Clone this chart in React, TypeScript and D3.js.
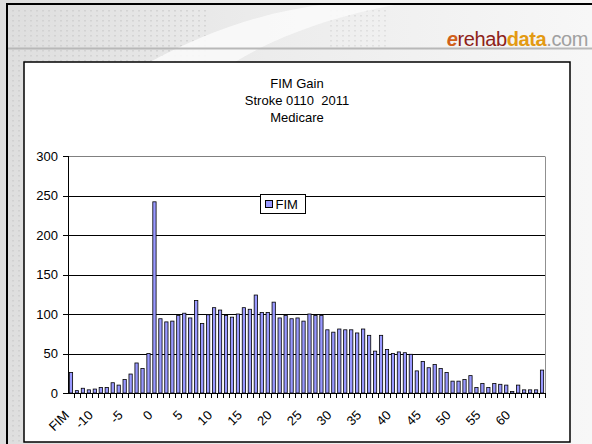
import React, { useEffect, useRef } from 'react';
import * as d3 from 'd3';

// FIM gain categories (first one is the "FIM" header bucket)
const categories: string[] = [
  'FIM', '-13', '-12', '-11', '-10', '-9', '-8', '-7', '-6', '-5', '-4', '-3', '-2', '-1',
  '0', '1', '2', '3', '4', '5', '6', '7', '8', '9', '10', '11', '12', '13', '14', '15',
  '16', '17', '18', '19', '20', '21', '22', '23', '24', '25', '26', '27', '28', '29', '30',
  '31', '32', '33', '34', '35', '36', '37', '38', '39', '40', '41', '42', '43', '44', '45',
  '46', '47', '48', '49', '50', '51', '52', '53', '54', '55', '56', '57', '58', '59', '60',
  '61', '62', '63', '64', '65',
];

const fimValues: number[] = [
  26, 3, 6, 4, 5, 7, 7, 13, 10, 17, 24, 38, 31, 50,
  242, 94, 90, 91, 98, 101, 95, 117, 88, 99, 108, 105, 98, 96, 100, 108,
  106, 124, 102, 102, 115, 95, 98, 94, 95, 91, 100, 98, 98, 80, 77,
  81, 80, 80, 76, 81, 73, 53, 73, 55, 50, 52, 51, 49, 28, 40,
  32, 36, 31, 26, 15, 15, 17, 22, 7, 12, 7, 12, 11, 10, 2,
  10, 4, 4, 4, 29,
];

const xTickLabels: string[] = ['FIM', '-10', '-5', '0', '5', '10', '15', '20', '25', '30', '35', '40', '45', '50', '55', '60'];
const yTicks: number[] = [0, 50, 100, 150, 200, 250, 300];
const titleLines: string[] = ['FIM Gain', 'Stroke 0110  2011', 'Medicare'];
const seriesName = 'FIM';

const W = 592;
const H = 444;
const plot = { left: 68, right: 545, top: 156, bottom: 393 };
const font = '"Liberation Sans", Arial, sans-serif';
const barFill = '#9999FF';

const App: React.FC = () => {
  const svgRef = useRef<SVGSVGElement>(null);

  useEffect(() => {
    if (!svgRef.current) return;
    const svg = d3.select(svgRef.current);
    svg.selectAll('*').remove();

    const x = d3.scaleBand<string>().domain(categories).range([plot.left, plot.right]).padding(0);
    const y = d3.scaleLinear().domain([0, 300]).range([plot.bottom, plot.top]);

    // slide background
    const defs = svg.append('defs');
    const bg = defs.append('linearGradient').attr('id', 'bg').attr('x1', '0%').attr('x2', '100%');
    bg.append('stop').attr('offset', '0%').attr('stop-color', '#dedede');
    bg.append('stop').attr('offset', '45%').attr('stop-color', '#ececec');
    bg.append('stop').attr('offset', '100%').attr('stop-color', '#f7f7f7');
    const dots = defs.append('pattern').attr('id', 'dots').attr('width', 6).attr('height', 5)
      .attr('patternUnits', 'userSpaceOnUse');
    dots.append('rect').attr('width', 2).attr('height', 1.5).attr('fill', '#c8c8c8');

    svg.append('rect').attr('width', W).attr('height', H).attr('fill', 'url(#bg)');
    svg.append('rect').attr('x', 8).attr('y', 8).attr('width', 200).attr('height', H).attr('fill', 'url(#dots)').attr('opacity', 0.6);
    svg.append('rect').attr('x', 330).attr('y', 8).attr('width', 60).attr('height', 40).attr('fill', 'url(#dots)').attr('opacity', 0.4);
    svg.append('path')
      .attr('d', 'M 150 62 C 210 30, 270 10, 330 4 L 400 4 C 330 16, 270 40, 235 62 Z')
      .attr('fill', '#fafafa').attr('opacity', 0.9);
    svg.append('line').attr('x1', 8).attr('x2', W).attr('y1', 48.5).attr('y2', 48.5)
      .attr('stroke', '#b8b8b8').attr('stroke-width', 2);
    svg.append('rect').attr('x', 7).attr('y', 4).attr('width', W + 10).attr('height', H + 10)
      .attr('fill', 'none').attr('stroke', '#000').attr('stroke-width', 2);

    // logo
    const logo = svg.append('text').attr('x', 588).attr('y', 46).attr('text-anchor', 'end')
      .attr('font-family', font).attr('font-size', 20).attr('letter-spacing', -0.4);
    logo.append('tspan').text('e').attr('fill', '#d0601a').attr('font-style', 'italic').attr('font-weight', 'bold');
    logo.append('tspan').text('rehab').attr('fill', '#8e2218');
    logo.append('tspan').text('data').attr('fill', '#e39a12').attr('font-weight', 'bold');
    logo.append('tspan').text('.com').attr('fill', '#a0a0a0');

    // chart box
    svg.append('rect').attr('x', 24).attr('y', 62).attr('width', 546).attr('height', 380)
      .attr('fill', '#fff').attr('stroke', '#000').attr('stroke-width', 1.5);

    // title
    svg.append('g').selectAll('text').data(titleLines).join('text')
      .attr('x', 297).attr('y', (d, i) => 88 + i * 17)
      .attr('text-anchor', 'middle').attr('font-family', font).attr('font-size', 13)
      .style('white-space', 'pre')
      .attr('fill', '#000').text(d => d);

    // gridlines
    svg.append('g').selectAll('line').data(yTicks.filter(t => t > 0)).join('line')
      .attr('x1', plot.left - 5).attr('x2', plot.right)
      .attr('y1', d => Math.round(y(d)) + 0.5).attr('y2', d => Math.round(y(d)) + 0.5)
      .attr('stroke', d => (d === 300 ? '#808080' : '#000')).attr('stroke-width', 1);
    svg.append('line').attr('x1', plot.right + 0.5).attr('x2', plot.right + 0.5)
      .attr('y1', Math.round(y(300)) + 0.5).attr('y2', plot.bottom).attr('stroke', '#909090');

    // bars
    const bw = x.bandwidth() * 0.55;
    svg.append('g').selectAll('rect').data(fimValues).join('rect')
      .attr('x', (d, i) => (x(categories[i]) || 0) + (x.bandwidth() - bw) / 2)
      .attr('y', d => y(d))
      .attr('width', bw)
      .attr('height', d => y(0) - y(d))
      .attr('fill', barFill).attr('stroke', '#000').attr('stroke-width', 0.8);

    // axes lines
    svg.append('line').attr('x1', plot.left + 0.5).attr('x2', plot.left + 0.5)
      .attr('y1', plot.top).attr('y2', plot.bottom + 0.5).attr('stroke', '#000');
    svg.append('line').attr('x1', plot.left - 5).attr('x2', plot.right + 1)
      .attr('y1', plot.bottom + 0.5).attr('y2', plot.bottom + 0.5).attr('stroke', '#000');

    // y ticks & labels
    const ya = svg.append('g');
    ya.selectAll('line').data(yTicks).join('line')
      .attr('x1', plot.left - 5).attr('x2', plot.left)
      .attr('y1', d => Math.round(y(d)) + 0.5).attr('y2', d => Math.round(y(d)) + 0.5)
      .attr('stroke', '#000');
    ya.selectAll('text').data(yTicks).join('text')
      .attr('x', plot.left - 10).attr('y', d => y(d)).attr('dy', '0.36em')
      .attr('text-anchor', 'end').attr('font-family', font).attr('font-size', 13)
      .text(d => String(d));

    // x ticks between categories
    const xa = svg.append('g');
    xa.selectAll('line').data(categories).join('line')
      .attr('x1', d => Math.round((x(d) || 0) + x.bandwidth()) + 0.5)
      .attr('x2', d => Math.round((x(d) || 0) + x.bandwidth()) + 0.5)
      .attr('y1', plot.bottom).attr('y2', plot.bottom + 5)
      .attr('stroke', '#000');

    xa.selectAll('text').data(xTickLabels).join('text')
      .attr('transform', d => `translate(${(x(d) || 0) + x.bandwidth() / 2 - 1},${plot.bottom + 23}) rotate(-45)`)
      .attr('text-anchor', 'end')
      .attr('font-family', font).attr('font-size', 13)
      .text(d => d);

    // legend
    const lg = svg.append('g').attr('transform', 'translate(260.5,194.5)');
    lg.append('rect').attr('width', 45).attr('height', 19).attr('fill', '#fff').attr('stroke', '#000');
    lg.append('rect').attr('x', 5).attr('y', 6).attr('width', 7).attr('height', 7)
      .attr('fill', barFill).attr('stroke', '#000');
    lg.append('text').attr('x', 15).attr('y', 14.5).attr('font-family', font).attr('font-size', 13)
      .text(seriesName);
  }, []);

  return (
    <div style={{ position: 'absolute', left: 0, top: 0, width: W, height: H }}>
      <svg ref={svgRef} width={W} height={H} style={{ display: 'block' }} />
    </div>
  );
};

export default App;
